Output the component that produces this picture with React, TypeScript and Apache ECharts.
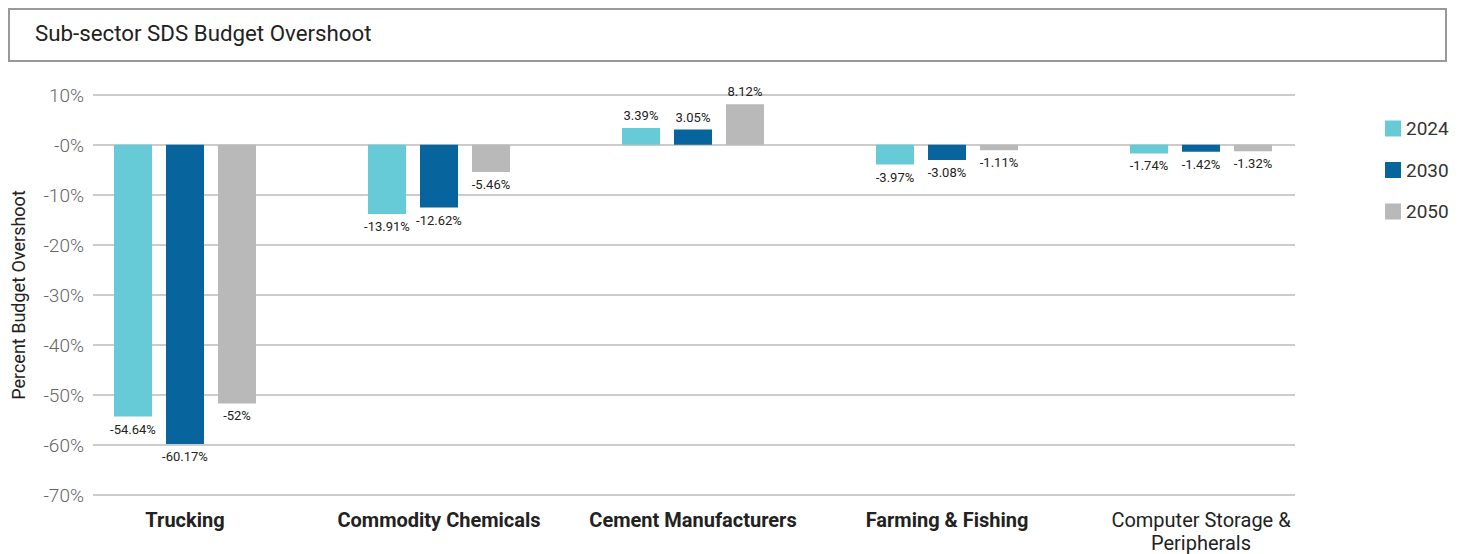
import React, { useEffect, useRef } from "react";
import * as echarts from "echarts";

const categories = [
  "Trucking",
  "Commodity Chemicals",
  "Cement Manufacturers",
  "Farming & Fishing",
  "Computer Storage &\nPeripherals",
];
const boldCategory = [true, true, true, true, false];
const seriesNames = ["2024", "2030", "2050"];
const values2024 = [-54.64, -13.91, 3.39, -3.97, -1.74];
const values2030 = [-60.17, -12.62, 3.05, -3.08, -1.42];
const values2050 = [-52, -5.46, 8.12, -1.11, -1.32];
const colors = ["#66CBD7", "#07649C", "#B9B9B9"];
const yTicks = { min: -70, max: 10, interval: 10 };

const FONT = "Roboto, 'Noto Sans', sans-serif";

export default function App() {
  const ref = useRef<HTMLDivElement>(null);
  useEffect(() => {
    document.body.style.margin = "0";
    if (!ref.current) return;
    const chart = echarts.init(ref.current, undefined, { renderer: "svg" });
    const allValues = [values2024, values2030, values2050];
    chart.setOption({
      animation: false,
      textStyle: { fontFamily: FONT },
      graphic: [
        {
          type: "rect",
          shape: { x: 9, y: 9, width: 1437, height: 52 },
          style: { fill: "#fff", stroke: "#999", lineWidth: 2 },
        },
        {
          type: "text",
          x: 35,
          y: 33,
          style: {
            text: "Sub-sector SDS Budget Overshoot",
            fontSize: 22.3,
            fontFamily: FONT,
            fill: "#222",
            verticalAlign: "middle",
          },
        },
      ],
      legend: {
        orient: "vertical",
        left: 1380,
        top: 114,
        itemWidth: 16,
        itemHeight: 16,
        itemGap: 22.5,
        icon: "rect",
        textStyle: { fontSize: 19, color: "#333", fontFamily: FONT },
        data: seriesNames,
      },
      grid: [
        { left: 58, width: 1270, top: 95, height: 400 },
        { left: 93, width: 1202, top: 95, height: 400 },
      ],
      xAxis: [
        {
          type: "category",
          gridIndex: 0,
          data: categories.map((c, i) => ({
            value: c,
            textStyle: { fontWeight: boldCategory[i] ? "bold" : "normal" },
          })),
          axisLine: { show: false, onZero: false },
          axisTick: { show: false },
          position: "bottom",
          axisLabel: {
            margin: 15,
            fontSize: 20,
            color: "#222",
            lineHeight: 23,
            fontFamily: FONT,
            interval: 0,
          },
        },
        { type: "value", gridIndex: 1, show: false, min: 0, max: 1 },
      ],
      yAxis: [
        { type: "value", gridIndex: 0, ...yTicks, show: false },
        {
          type: "value",
          gridIndex: 1,
          ...yTicks,
          name: "Percent Budget Overshoot",
          nameLocation: "middle",
          nameRotate: 90,
          nameGap: 66,
          nameTextStyle: { fontSize: 18, color: "#222", fontFamily: FONT },
          axisLine: { show: false },
          axisTick: { show: false },
          axisLabel: {
            margin: 9,
            fontSize: 19,
            color: "#666",
            fontWeight: 300,
            fontFamily: FONT,
            formatter: (v: number) => (v === 0 ? "-0%" : `${v}%`),
          },
          splitLine: { lineStyle: { color: "#CCCCCC", width: 2 } },
        },
      ],
      series: seriesNames.map((name, si) => ({
        name,
        type: "bar",
        xAxisIndex: 0,
        yAxisIndex: 0,
        barWidth: 38,
        barGap: "36.84%",
        itemStyle: { color: colors[si] },
        label: {
          show: true,
          fontSize: 13,
          color: "#222",
          fontFamily: FONT,
          distance: 6,
          formatter: (p: any) => `${p.value}%`,
        },
        data: allValues[si].map((v) => ({
          value: v,
          label: { position: v < 0 ? "bottom" : "top" },
        })),
      })),
    });
    return () => chart.dispose();
  }, []);
  return <div ref={ref} style={{ width: 1461, height: 554 }} />;
}
